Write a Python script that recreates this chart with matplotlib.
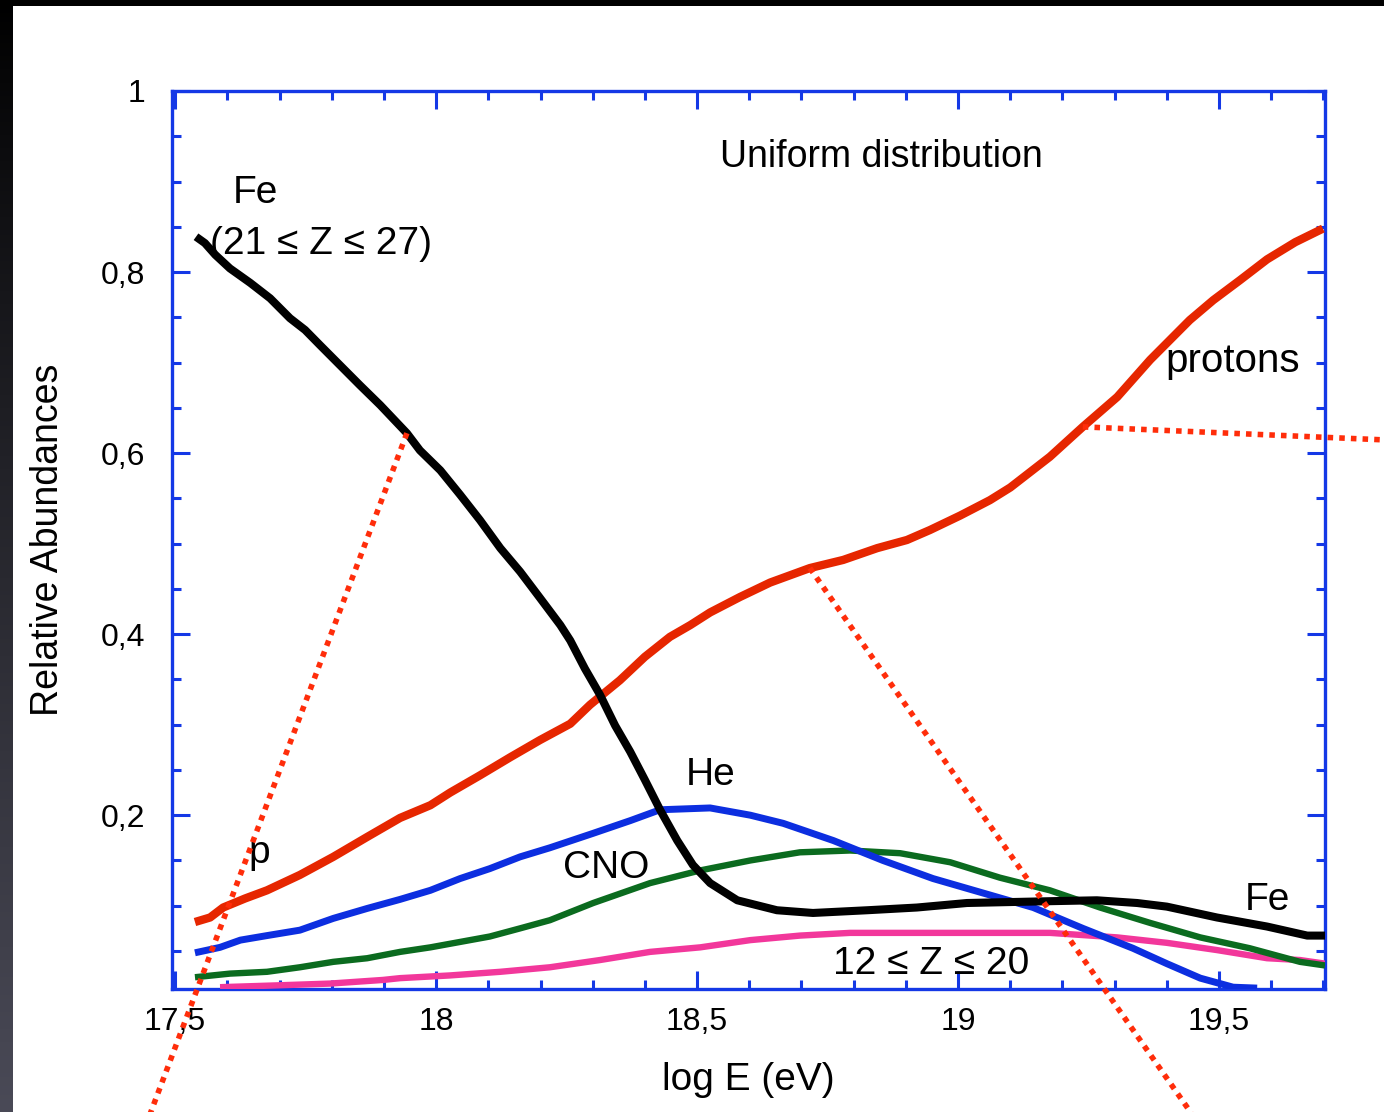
import numpy as np
import matplotlib
matplotlib.use("Agg")
import matplotlib.pyplot as plt
from matplotlib.lines import Line2D
from matplotlib.patches import Rectangle

plt.rcParams['font.family'] = ['Liberation Sans', 'DejaVu Sans']

# ---- data: relative abundances vs log10(E/eV) ----
fe_x = [17.540, 17.557, 17.577, 17.605, 17.644, 17.682, 17.720, 17.749, 17.778, 17.816,
        17.854, 17.893, 17.944, 17.969, 18.008, 18.046, 18.084, 18.123, 18.161, 18.199,
        18.238, 18.257, 18.285, 18.314, 18.343, 18.372, 18.400, 18.429, 18.462, 18.492,
        18.525, 18.577, 18.653, 18.722, 18.826, 18.921, 19.017, 19.176, 19.266, 19.343,
        19.400, 19.496, 19.592, 19.669, 19.703]
fe_y = [0.839, 0.832, 0.819, 0.804, 0.788, 0.771, 0.749, 0.736, 0.719, 0.697,
        0.675, 0.653, 0.622, 0.603, 0.581, 0.554, 0.526, 0.495, 0.469, 0.440,
        0.410, 0.393, 0.362, 0.333, 0.299, 0.270, 0.239, 0.206, 0.172, 0.145,
        0.125, 0.106, 0.095, 0.092, 0.095, 0.098, 0.103, 0.105, 0.106, 0.103,
        0.099, 0.087, 0.077, 0.067, 0.067]

p_x = [17.538, 17.567, 17.592, 17.634, 17.676, 17.739, 17.803, 17.868, 17.931, 17.989,
       18.027, 18.084, 18.142, 18.199, 18.257, 18.295, 18.352, 18.400, 18.448, 18.487,
       18.525, 18.582, 18.640, 18.716, 18.780, 18.845, 18.902, 18.946, 19.004, 19.061,
       19.100, 19.138, 19.176, 19.239, 19.305, 19.368, 19.444, 19.489, 19.540, 19.592,
       19.646, 19.699]
p_y = [0.082, 0.087, 0.098, 0.108, 0.117, 0.134, 0.154, 0.176, 0.197, 0.211,
       0.225, 0.244, 0.264, 0.283, 0.301, 0.322, 0.349, 0.375, 0.397, 0.410,
       0.424, 0.441, 0.457, 0.473, 0.482, 0.495, 0.504, 0.515, 0.531, 0.548,
       0.562, 0.579, 0.596, 0.629, 0.662, 0.703, 0.747, 0.769, 0.791, 0.814,
       0.833, 0.848]

he_x = [17.538, 17.586, 17.625, 17.676, 17.739, 17.803, 17.868, 17.931, 17.989, 18.046,
        18.103, 18.161, 18.218, 18.301, 18.372, 18.429, 18.525, 18.602, 18.665, 18.761,
        18.856, 18.952, 19.048, 19.144, 19.239, 19.335, 19.400, 19.464, 19.527, 19.573]
he_y = [0.048, 0.054, 0.062, 0.067, 0.073, 0.086, 0.097, 0.107, 0.117, 0.130,
        0.141, 0.154, 0.164, 0.180, 0.194, 0.206, 0.208, 0.200, 0.191, 0.172,
        0.150, 0.130, 0.114, 0.098, 0.075, 0.053, 0.036, 0.020, 0.010, 0.009]

cno_x = [17.538, 17.605, 17.676, 17.739, 17.803, 17.868, 17.931, 17.989, 18.046, 18.103,
         18.161, 18.218, 18.301, 18.410, 18.506, 18.602, 18.697, 18.793, 18.889, 18.985,
         19.080, 19.176, 19.272, 19.368, 19.464, 19.559, 19.655, 19.703]
cno_y = [0.021, 0.025, 0.027, 0.032, 0.038, 0.042, 0.049, 0.054, 0.060, 0.066,
         0.075, 0.084, 0.103, 0.125, 0.139, 0.150, 0.159, 0.161, 0.158, 0.148,
         0.131, 0.117, 0.098, 0.081, 0.065, 0.053, 0.038, 0.034]

mid_x = [17.586, 17.695, 17.797, 17.898, 17.931, 18.027, 18.123, 18.218, 18.314, 18.410,
         18.506, 18.602, 18.697, 18.793, 18.889, 19.176, 19.305, 19.400, 19.496, 19.592,
         19.655, 19.703]
mid_y = [0.010, 0.012, 0.014, 0.018, 0.020, 0.023, 0.027, 0.032, 0.040, 0.049,
         0.054, 0.062, 0.067, 0.070, 0.070, 0.070, 0.065, 0.059, 0.051, 0.042,
         0.040, 0.036]

x_ticks = [17.5, 18.0, 18.5, 19.0, 19.5]
x_tick_labels = ["17,5", "18", "18,5", "19", "19,5"]
y_ticks = [0.2, 0.4, 0.6, 0.8, 1.0]
y_tick_labels = ["0,2", "0,4", "0,6", "0,8", "1"]

# ---- figure ----
W, H = 1384, 1112
fig = plt.figure(figsize=(W / 100, H / 100), dpi=100, facecolor="white")

# dark slide border: black band on top, gradient strip on the left
bg = fig.add_axes([0, 0, 13 / W, 1])
bg.set_axis_off()
grad = np.linspace(0, 1, 256)[:, None]
top_col = np.array([0.0, 0.0, 0.0])
bot_col = np.array([0.29, 0.29, 0.34])
img = top_col + (bot_col - top_col) * grad[..., None] ** 0.9
bg.imshow(img, aspect="auto", extent=[0, 1, 0, 1], origin="upper")
fig.patches.append(Rectangle((0, 1 - 6 / H), 1, 6 / H, transform=fig.transFigure,
                             facecolor="black", edgecolor="none", zorder=5))

ax = fig.add_axes([172 / W, 1 - 989 / H, (1325 - 172) / W, (989 - 91) / H])
ax.set_xlim(17.494, 19.703)
ax.set_ylim(0.008, 1.0)

spine_col = "#1438e6"
for s in ax.spines.values():
    s.set_color(spine_col)
    s.set_linewidth(2.4)

ax.plot(mid_x, mid_y, color="#f2379b", lw=4.6, solid_capstyle="butt", zorder=3)
ax.plot(cno_x, cno_y, color="#0b6b1f", lw=4.6, solid_capstyle="butt", zorder=3)
ax.plot(he_x, he_y, color="#0c2ee0", lw=5.0, solid_capstyle="butt", zorder=4)
ax.plot(p_x, p_y, color="#e62600", lw=6.0, solid_capstyle="butt", zorder=4)
ax.plot(fe_x, fe_y, color="black", lw=5.8, solid_capstyle="butt", zorder=5)

ax.set_xticks(x_ticks)
ax.set_xticklabels(x_tick_labels)
ax.set_xticks(np.arange(17.6, 19.71, 0.1), minor=True)
ax.set_yticks(y_ticks)
ax.set_yticklabels(y_tick_labels)
ax.set_yticks(np.arange(0.05, 1.0, 0.05), minor=True)
ax.tick_params(which="both", direction="in", top=True, right=True,
               color=spine_col, width=2.2)
ax.tick_params(which="major", length=13)
ax.tick_params(which="minor", length=6.5)
ax.tick_params(axis="x", which="major", labelsize=23, pad=13)
ax.tick_params(axis="y", which="major", labelsize=23, pad=19)

ax.set_xlabel("log E (eV)", fontsize=28)
ax.xaxis.set_label_coords(0.5, -0.101)
ax.xaxis.label.set_va("center")
ax.set_ylabel("Relative Abundances", fontsize=27)
ax.yaxis.set_label_coords(-0.1075, 0.5)
ax.yaxis.label.set_va("center")

txt = dict(color="black", va="baseline", ha="left")
ax.text(18.853, 0.916, "Uniform distribution", fontsize=27, ha="center", va="baseline")
ax.text(17.611, 0.876, "Fe", fontsize=28, **txt)
ax.text(17.567, 0.820, "(21 \u2264 Z \u2264 27)", fontsize=28, **txt)
ax.text(17.640, 0.147, "p", fontsize=28, **txt)
ax.text(18.479, 0.233, "He", fontsize=28, **txt)
ax.text(18.243, 0.131, "CNO", fontsize=28, **txt)
ax.text(18.761, 0.025, "12 \u2264 Z \u2264 20", fontsize=28, **txt)
ax.text(19.550, 0.095, "Fe", fontsize=28, **txt)
ax.text(19.397, 0.690, "protons", fontsize=29, **txt)

# dotted pointer lines running from the curves off the edge of the slide
to_fig = fig.transFigure.inverted()
pointers = [
    ((fe_x[12], fe_y[12]), (150 / W, -0.002)),
    ((p_x[23], p_y[23]), (1192 / W, -0.002)),
    ((p_x[33], p_y[33]), (1.002, 1 - 440 / H)),
]
for (dx, dy), end in pointers:
    start = to_fig.transform(ax.transData.transform((dx, dy)))
    ln = Line2D([start[0], end[0]], [start[1], end[1]], transform=fig.transFigure,
                color="#ff2d0a", lw=4.0, linestyle=(0, (1.0, 1.1)),
                dash_capstyle="butt", zorder=10)
    fig.lines.append(ln)

fig.savefig("out.png", dpi=100, facecolor=fig.get_facecolor())
